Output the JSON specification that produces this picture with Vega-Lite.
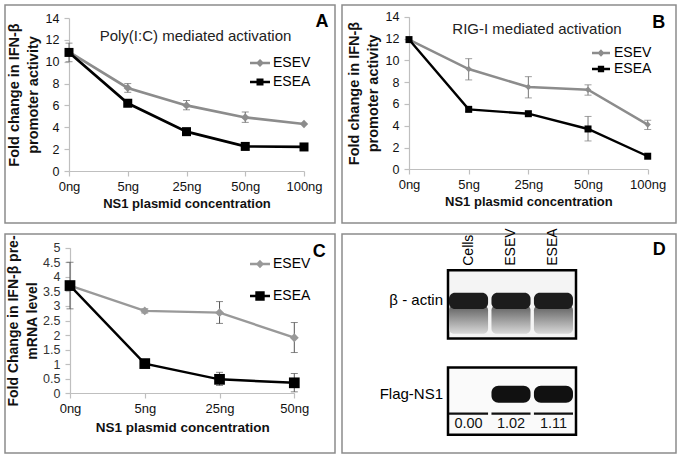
{
  "$schema": "https://vega.github.io/schema/vega-lite/v6.json",
  "background": "white",
  "padding": {"left": 4, "top": 4, "right": 0, "bottom": 0},
  "bounds": "flush",
  "columns": 2,
  "spacing": {"row": 11, "column": 7},
  "config": {
    "font": "Liberation Sans",
    "view": {"stroke": "#8c8c8c", "strokeWidth": 1.5},
    "axis": {"grid": false, "domainColor": "#bfbfbf", "tickColor": "#bfbfbf", "domainWidth": 1.2, "tickWidth": 1.2, "tickSize": 5, "labelColor": "#111", "titleColor": "#111", "labelFont": "Liberation Sans", "titleFont": "Liberation Sans", "labelOverlap": false},
    "legend": {"labelFont": "Liberation Sans", "labelColor": "#000", "labelFontSize": 14, "padding": 0, "symbolSize": 100, "labelOffset": 6, "symbolOffset": 0},
    "text": {"color": "#111", "fontWeight": "normal"}
  },
  "resolve": {"scale": {"x": "independent", "y": "independent", "color": "independent"}, "legend": {"color": "independent"}},
  "concat": [
    {
      "width": 330, "height": 218,
      "data": {"values": [
        {"dose": "0ng", "series": "ESEV", "value": 10.9, "lo": 10.0, "hi": 11.7},
        {"dose": "5ng", "series": "ESEV", "value": 7.6, "lo": 7.2, "hi": 8.0},
        {"dose": "25ng", "series": "ESEV", "value": 6.0, "lo": 5.6, "hi": 6.45},
        {"dose": "50ng", "series": "ESEV", "value": 4.9, "lo": 4.45, "hi": 5.4},
        {"dose": "100ng", "series": "ESEV", "value": 4.3},
        {"dose": "0ng", "series": "ESEA", "value": 10.85},
        {"dose": "5ng", "series": "ESEA", "value": 6.2},
        {"dose": "25ng", "series": "ESEA", "value": 3.6},
        {"dose": "50ng", "series": "ESEA", "value": 2.25},
        {"dose": "100ng", "series": "ESEA", "value": 2.2}
      ]},
      "layer": [
        {
          "transform": [{"filter": "isValid(datum.lo)"}],
          "mark": {"type": "rule", "color": "#666", "strokeWidth": 1},
          "encoding": {
            "x": {"field": "dose", "type": "ordinal", "scale": {"type": "point", "domain": ["0ng", "5ng", "25ng", "50ng", "100ng"], "range": [64, 299], "padding": 0},
                  "axis": {"title": "NS1 plasmid concentration", "offset": -52, "labelAngle": 0, "labelFontSize": 13, "titleFontSize": 13, "titleFontWeight": "bold", "labelPadding": 4, "titlePadding": 4, "labelOverlap": false}},
            "y": {"field": "lo", "type": "quantitative", "scale": {"domain": [0, 14], "range": [166, 13], "nice": false, "zero": false},
                  "axis": {"title": ["Fold change in IFN-β", "promoter activity"], "offset": -64, "values": [0, 2, 4, 6, 8, 10, 12, 14], "format": "d", "tickCount": 30, "labelOverlap": false, "labelFontSize": 12.5, "titleFontSize": 14.5, "titleFontWeight": "bold", "titleLineHeight": 19, "labelPadding": 5, "titlePadding": 5}},
            "y2": {"field": "hi"}
          }
        },
        {"transform": [{"filter": "isValid(datum.lo)"}], "mark": {"type": "tick", "color": "#666", "thickness": 1, "size": 7}, "encoding": {"x": {"field": "dose", "type": "ordinal"}, "y": {"field": "lo", "type": "quantitative"}}},
        {"transform": [{"filter": "isValid(datum.lo)"}], "mark": {"type": "tick", "color": "#666", "thickness": 1, "size": 7}, "encoding": {"x": {"field": "dose", "type": "ordinal"}, "y": {"field": "hi", "type": "quantitative"}}},
        {
          "mark": {"type": "line", "strokeWidth": 2.7},
          "encoding": {
            "x": {"field": "dose", "type": "ordinal"},
            "y": {"field": "value", "type": "quantitative"},
            "color": {"field": "series", "type": "nominal", "scale": {"domain": ["ESEV", "ESEA"], "range": ["#8c8c8c", "#000000"]},
              "legend": {"title": null, "orient": "none", "legendX": 248, "legendY": 51, "rowPadding": 3,
                "encode": {"symbols": {"update": {
                  "shape": {"signal": "datum.value === 'ESEV' ? 'M-2,0H2M0,-0.45L0.45,0L0,0.45L-0.45,0Z' : 'M-2,0H2M-0.45,-0.45H0.45V0.45H-0.45Z'"},
                  "fill": {"signal": "datum.value === 'ESEV' ? '#8c8c8c' : '#000000'"},
                  "stroke": {"signal": "datum.value === 'ESEV' ? '#8c8c8c' : '#000000'"},
                  "strokeWidth": {"value": 2.5}, "opacity": {"value": 1}}}}}}
          }
        },
        {"transform": [{"filter": "datum.series === 'ESEV'"}], "mark": {"type": "point", "shape": "diamond", "filled": true, "size": 69, "color": "#8c8c8c", "opacity": 1}, "encoding": {"x": {"field": "dose", "type": "ordinal"}, "y": {"field": "value", "type": "quantitative"}}},
        {"transform": [{"filter": "datum.series === 'ESEA'"}], "mark": {"type": "point", "shape": "square", "filled": true, "size": 81, "color": "#000000", "opacity": 1}, "encoding": {"x": {"field": "dose", "type": "ordinal"}, "y": {"field": "value", "type": "quantitative"}}},
        {"data": {"values": [{"label": "Poly(I:C) mediated activation"}]}, "mark": {"type": "text", "fontSize": 15, "fontWeight": "normal", "dx": 9, "baseline": "middle", "color": "#222"}, "encoding": {"x": {"datum": "25ng", "type": "ordinal"}, "y": {"datum": 12.35, "type": "quantitative"}, "text": {"field": "label"}}},
        {"data": {"values": [{"label": "A"}]}, "mark": {"type": "text", "fontSize": 18, "fontWeight": "bold", "dx": 18, "baseline": "middle", "color": "#000"}, "encoding": {"x": {"datum": "100ng", "type": "ordinal"}, "y": {"datum": 13.6, "type": "quantitative"}, "text": {"field": "label"}}}
      ]
    },
    {
      "width": 334, "height": 218,
      "data": {"values": [
        {"dose": "0ng", "series": "ESEV", "value": 11.9},
        {"dose": "5ng", "series": "ESEV", "value": 9.2, "lo": 8.2, "hi": 10.15},
        {"dose": "25ng", "series": "ESEV", "value": 7.55, "lo": 6.55, "hi": 8.5},
        {"dose": "50ng", "series": "ESEV", "value": 7.3, "lo": 6.8, "hi": 7.75},
        {"dose": "100ng", "series": "ESEV", "value": 4.1, "lo": 3.65, "hi": 4.5},
        {"dose": "0ng", "series": "ESEA", "value": 11.9},
        {"dose": "5ng", "series": "ESEA", "value": 5.5, "lo": 5.3, "hi": 5.7},
        {"dose": "25ng", "series": "ESEA", "value": 5.1, "lo": 4.95, "hi": 5.25},
        {"dose": "50ng", "series": "ESEA", "value": 3.7, "lo": 2.6, "hi": 4.85},
        {"dose": "100ng", "series": "ESEA", "value": 1.2}
      ]},
      "layer": [
        {
          "transform": [{"filter": "isValid(datum.lo)"}],
          "mark": {"type": "rule", "color": "#777", "strokeWidth": 1},
          "encoding": {
            "x": {"field": "dose", "type": "ordinal", "scale": {"type": "point", "domain": ["0ng", "5ng", "25ng", "50ng", "100ng"], "range": [67, 305.7], "padding": 0},
                  "axis": {"title": "NS1 plasmid concentration", "offset": -54, "labelAngle": 0, "labelFontSize": 13, "titleFontSize": 13, "titleFontWeight": "bold", "labelPadding": 4, "titlePadding": 4, "labelOverlap": false}},
            "y": {"field": "lo", "type": "quantitative", "scale": {"domain": [0, 14], "range": [164.3, 11.7], "nice": false, "zero": false},
                  "axis": {"title": ["Fold change in IFN-β", "promoter activity"], "offset": -67, "values": [0, 2, 4, 6, 8, 10, 12, 14], "format": "d", "tickCount": 30, "labelOverlap": false, "labelFontSize": 12.5, "titleFontSize": 14.5, "titleFontWeight": "bold", "titleLineHeight": 19, "labelPadding": 5, "titlePadding": 5}},
            "y2": {"field": "hi"}
          }
        },
        {"transform": [{"filter": "isValid(datum.lo)"}], "mark": {"type": "tick", "color": "#777", "thickness": 1, "size": 7}, "encoding": {"x": {"field": "dose", "type": "ordinal"}, "y": {"field": "lo", "type": "quantitative"}}},
        {"transform": [{"filter": "isValid(datum.lo)"}], "mark": {"type": "tick", "color": "#777", "thickness": 1, "size": 7}, "encoding": {"x": {"field": "dose", "type": "ordinal"}, "y": {"field": "hi", "type": "quantitative"}}},
        {
          "mark": {"type": "line", "strokeWidth": 2.4},
          "encoding": {
            "x": {"field": "dose", "type": "ordinal"},
            "y": {"field": "value", "type": "quantitative"},
            "color": {"field": "series", "type": "nominal", "scale": {"domain": ["ESEV", "ESEA"], "range": ["#8c8c8c", "#000000"]},
              "legend": {"title": null, "orient": "none", "legendX": 252, "legendY": 41, "rowPadding": 2,
                "encode": {"symbols": {"update": {
                  "shape": {"signal": "datum.value === 'ESEV' ? 'M-1.8,0H1.8M0,-0.4L0.4,0L0,0.4L-0.4,0Z' : 'M-1.8,0H1.8M-0.4,-0.4H0.4V0.4H-0.4Z'"},
                  "fill": {"signal": "datum.value === 'ESEV' ? '#8c8c8c' : '#000000'"},
                  "stroke": {"signal": "datum.value === 'ESEV' ? '#8c8c8c' : '#000000'"},
                  "strokeWidth": {"value": 2.3}, "opacity": {"value": 1}}}}}}
          }
        },
        {"transform": [{"filter": "datum.series === 'ESEV'"}], "mark": {"type": "point", "shape": "diamond", "filled": true, "size": 40, "color": "#8c8c8c", "opacity": 1}, "encoding": {"x": {"field": "dose", "type": "ordinal"}, "y": {"field": "value", "type": "quantitative"}}},
        {"transform": [{"filter": "datum.series === 'ESEA'"}], "mark": {"type": "point", "shape": "square", "filled": true, "size": 49, "color": "#000000", "opacity": 1}, "encoding": {"x": {"field": "dose", "type": "ordinal"}, "y": {"field": "value", "type": "quantitative"}}},
        {"data": {"values": [{"label": "RIG-I mediated activation"}]}, "mark": {"type": "text", "fontSize": 15, "fontWeight": "normal", "dx": 8.6, "baseline": "middle", "color": "#222"}, "encoding": {"x": {"datum": "25ng", "type": "ordinal"}, "y": {"datum": 12.87, "type": "quantitative"}, "text": {"field": "label"}}},
        {"data": {"values": [{"label": "B"}]}, "mark": {"type": "text", "fontSize": 18, "fontWeight": "bold", "dx": 11, "baseline": "middle", "color": "#000"}, "encoding": {"x": {"datum": "100ng", "type": "ordinal"}, "y": {"datum": 13.42, "type": "quantitative"}, "text": {"field": "label"}}}
      ]
    },
    {
      "width": 330, "height": 219,
      "data": {"values": [
        {"dose": "0ng", "series": "ESEV", "value": 3.7, "lo": 2.9, "hi": 4.5},
        {"dose": "5ng", "series": "ESEV", "value": 2.83, "lo": 2.76, "hi": 2.9},
        {"dose": "25ng", "series": "ESEV", "value": 2.77, "lo": 2.4, "hi": 3.15},
        {"dose": "50ng", "series": "ESEV", "value": 1.91, "lo": 1.4, "hi": 2.43},
        {"dose": "0ng", "series": "ESEA", "value": 3.7},
        {"dose": "5ng", "series": "ESEA", "value": 1.02},
        {"dose": "25ng", "series": "ESEA", "value": 0.48, "lo": 0.27, "hi": 0.72},
        {"dose": "50ng", "series": "ESEA", "value": 0.36, "lo": 0.05, "hi": 0.68}
      ]},
      "layer": [
        {
          "transform": [{"filter": "isValid(datum.lo)"}],
          "mark": {"type": "rule", "color": "#555", "strokeWidth": 1},
          "encoding": {
            "x": {"field": "dose", "type": "ordinal", "scale": {"type": "point", "domain": ["0ng", "5ng", "25ng", "50ng"], "range": [65, 289.3], "padding": 0},
                  "axis": {"title": "NS1 plasmid concentration", "offset": -60, "labelAngle": 0, "labelFontSize": 13, "titleFontSize": 13.5, "titleFontWeight": "bold", "labelPadding": 4, "titlePadding": 5, "labelOverlap": false}},
            "y": {"field": "lo", "type": "quantitative", "scale": {"domain": [0, 5], "range": [159.3, 13.7], "nice": false, "zero": false},
                  "axis": {"title": ["Fold Change in IFN-β pre-", "mRNA level"], "offset": -65, "values": [0, 0.5, 1, 1.5, 2, 2.5, 3, 3.5, 4, 4.5, 5], "tickCount": 30, "labelOverlap": false, "format": "~g", "labelFontSize": 12.5, "titleFontSize": 14, "titleFontWeight": "bold", "titleLineHeight": 19, "labelPadding": 5, "titlePadding": 3, "labelColor": "#333"}},
            "y2": {"field": "hi"}
          }
        },
        {"transform": [{"filter": "isValid(datum.lo)"}], "mark": {"type": "tick", "color": "#555", "thickness": 1, "size": 7}, "encoding": {"x": {"field": "dose", "type": "ordinal"}, "y": {"field": "lo", "type": "quantitative"}}},
        {"transform": [{"filter": "isValid(datum.lo)"}], "mark": {"type": "tick", "color": "#555", "thickness": 1, "size": 7}, "encoding": {"x": {"field": "dose", "type": "ordinal"}, "y": {"field": "hi", "type": "quantitative"}}},
        {
          "mark": {"type": "line", "strokeWidth": 2.4},
          "encoding": {
            "x": {"field": "dose", "type": "ordinal"},
            "y": {"field": "value", "type": "quantitative"},
            "color": {"field": "series", "type": "nominal", "scale": {"domain": ["ESEV", "ESEA"], "range": ["#999999", "#000000"]},
              "legend": {"title": null, "orient": "none", "legendX": 248, "legendY": 23, "rowPadding": 15,
                "encode": {"symbols": {"update": {
                  "shape": {"signal": "datum.value === 'ESEV' ? 'M-2,0H2M0,-0.5L0.5,0L0,0.5L-0.5,0Z' : 'M-2,0H2M-0.7,-0.7H0.7V0.7H-0.7Z'"},
                  "fill": {"signal": "datum.value === 'ESEV' ? '#999999' : '#000000'"},
                  "stroke": {"signal": "datum.value === 'ESEV' ? '#999999' : '#000000'"},
                  "strokeWidth": {"value": 2.4}, "opacity": {"value": 1}}}}}}
          }
        },
        {"transform": [{"filter": "datum.series === 'ESEV'"}], "mark": {"type": "point", "shape": "diamond", "filled": true, "size": 80, "color": "#999999", "opacity": 1}, "encoding": {"x": {"field": "dose", "type": "ordinal"}, "y": {"field": "value", "type": "quantitative"}}},
        {"transform": [{"filter": "datum.series === 'ESEA'"}], "mark": {"type": "point", "shape": "square", "filled": true, "size": 115, "color": "#000000", "opacity": 1}, "encoding": {"x": {"field": "dose", "type": "ordinal"}, "y": {"field": "value", "type": "quantitative"}}},
        {"data": {"values": [{"label": "C"}]}, "mark": {"type": "text", "fontSize": 18, "fontWeight": "bold", "dx": 25, "baseline": "middle", "color": "#000"}, "encoding": {"x": {"datum": "50ng", "type": "ordinal"}, "y": {"datum": 4.85, "type": "quantitative"}, "text": {"field": "label"}}}
      ]
    },
    {
      "width": 334, "height": 219,
      "resolve": {"scale": {"x": "independent"}},
      "layer": [
        {
          "data": {"values": [{"blot": "β - actin"}, {"blot": "Flag-NS1"}]},
          "layer": [
            {"transform": [{"filter": "datum.blot === 'β - actin'"}], "mark": {"type": "rect", "fill": "#f4f4f4", "stroke": "#000", "strokeWidth": 2.5},
             "encoding": {"x": {"datum": 0, "type": "quantitative", "scale": {"domain": [0, 1], "range": [106, 234], "zero": false, "nice": false}, "axis": null}, "x2": {"datum": 1},
                          "y": {"datum": 16.5, "type": "quantitative", "scale": {"domain": [0, 100], "range": [0, 219], "zero": false, "nice": false}, "axis": null}, "y2": {"datum": 47.7}}},
            {"transform": [{"filter": "datum.blot === 'Flag-NS1'"}], "mark": {"type": "rect", "fill": "#fafafa", "stroke": "#000", "strokeWidth": 2.5},
             "encoding": {"x": {"datum": 0, "type": "quantitative"}, "x2": {"datum": 1}, "y": {"datum": 61.0, "type": "quantitative"}, "y2": {"datum": 91.7}}},
            {"transform": [{"filter": "datum.blot === 'β - actin'"}], "mark": {"type": "text", "align": "right", "baseline": "middle", "dx": -5, "fontSize": 15, "fontWeight": "normal", "color": "#000"},
             "encoding": {"x": {"datum": 0, "type": "quantitative"}, "y": {"datum": 30.3, "type": "quantitative"}, "text": {"field": "blot"}}},
            {"transform": [{"filter": "datum.blot === 'Flag-NS1'"}], "mark": {"type": "text", "align": "right", "baseline": "middle", "dx": -5, "fontSize": 15, "fontWeight": "normal", "color": "#000"},
             "encoding": {"x": {"datum": 0, "type": "quantitative"}, "y": {"datum": 72.9, "type": "quantitative"}, "text": {"field": "blot"}}},
            {"transform": [{"filter": "datum.blot === 'β - actin'"}], "mark": {"type": "text", "align": "center", "baseline": "middle", "fontSize": 18, "fontWeight": "bold", "color": "#000", "text": "D"},
             "encoding": {"x": {"datum": 1.65, "type": "quantitative"}, "y": {"datum": 7.3, "type": "quantitative"}}}
          ]
        },
        {
          "data": {"values": [
            {"lane": "Cells", "ns1": 0.00},
            {"lane": "ESEV", "ns1": 1.02},
            {"lane": "ESEA", "ns1": 1.11}
          ]},
          "layer": [
            {"mark": {"type": "rect", "fill": {"gradient": "linear", "x1": 0, "y1": 0, "x2": 0, "y2": 1, "stops": [{"offset": 0, "color": "#5e5e5e"}, {"offset": 1, "color": "#d8d8d8"}]}, "cornerRadius": 5},
             "encoding": {"x": {"field": "lane", "type": "nominal", "scale": {"type": "band", "domain": ["Cells", "ESEV", "ESEA"], "range": [107, 231], "paddingInner": 0.08, "paddingOuter": 0}, "axis": null},
                          "y": {"datum": 32.5, "type": "quantitative"}, "y2": {"datum": 45.5}}},
            {"mark": {"type": "rect", "fill": "#1c1c1c", "cornerRadius": 6},
             "encoding": {"x": {"field": "lane", "type": "nominal"}, "y": {"datum": 26.8, "type": "quantitative"}, "y2": {"datum": 34.2}}},
            {"transform": [{"filter": "datum.ns1 > 0"}], "mark": {"type": "rect", "fill": "#111", "cornerRadius": 7},
             "encoding": {"x": {"field": "lane", "type": "nominal"}, "y": {"datum": 69.3, "type": "quantitative"}, "y2": {"datum": 77.1}}},
            {"mark": {"type": "rect", "fill": "#111"},
             "encoding": {"x": {"field": "lane", "type": "nominal"}, "y": {"datum": 81.5, "type": "quantitative"}, "y2": {"datum": 82.5}}},
            {"mark": {"type": "text", "baseline": "middle", "align": "center", "fontSize": 14.5, "fontWeight": "normal", "color": "#111"},
             "encoding": {"x": {"field": "lane", "type": "nominal"}, "y": {"datum": 86.7, "type": "quantitative"}, "text": {"field": "ns1", "type": "quantitative", "format": ".2f"}}},
            {"mark": {"type": "text", "angle": 270, "align": "left", "baseline": "middle", "fontSize": 14, "fontWeight": "normal", "color": "#000"},
             "encoding": {"x": {"field": "lane", "type": "nominal"}, "y": {"datum": 14.5, "type": "quantitative"}, "text": {"field": "lane"}}}
          ]
        }
      ]
    }
  ]
}
